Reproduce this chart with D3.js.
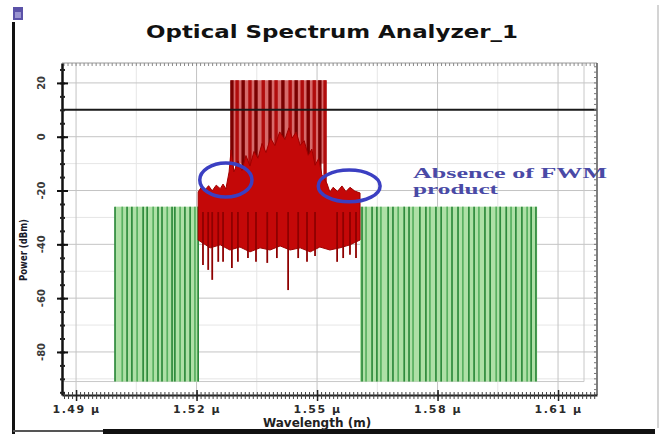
<!DOCTYPE html>
<html>
<head>
<meta charset="utf-8">
<script src="https://cdn.jsdelivr.net/npm/d3@7"></script>
<style>
  body { margin: 0; background: #fff; }
  svg { display: block; }
</style>
</head>
<body>
<svg id="chart" width="665" height="434"></svg>
<script>
// wavelength in nm, power in dBm
const xTicks = [1490, 1520, 1550, 1580, 1610];
const yTicks = [20, 0, -20, -40, -60, -80];
const xGridMinor = [1505, 1535, 1565, 1595];
const yGridMinor = [10, -10, -30, -50, -70, -90];

const floorLevel = -91;
const markerLevel = 10;
const peakLevel = 21;

// other WDM channels (green)
const greenBands = [[1499.7, 1520.4, -26], [1560.7, 1604.8, -26]];
const greenLines = [
  1499.7, 1501.5, 1502.7, 1503.9, 1505.2, 1506.7, 1507.7, 1509.2, 1510.4,
  1511.4, 1512.7, 1513.9, 1514.6, 1515.9, 1517.1, 1518.4, 1519.6, 1520.4,
  1561.2, 1562.2, 1563.7, 1564.9, 1565.9, 1567.7, 1568.9, 1570.2, 1571.7,
  1572.9, 1573.9, 1575.6, 1577.1, 1578.1, 1579.6, 1580.9, 1582.4, 1583.6,
  1585.1, 1586.3, 1587.8, 1589.1, 1590.3, 1591.8, 1593.1, 1594.6, 1595.6,
  1597.1, 1598.3, 1599.5, 1601.0, 1602.3, 1603.3, 1604.5
];

// red spectrum: envelope of the dense band
const redUpper = [
  [1520.4, -20.5], [1521.3, -18.6], [1522.1, -19.8], [1523.0, -18.2],
  [1523.9, -20.1], [1524.9, -18.0], [1525.9, -19.3], [1526.6, -17.6],
  [1527.3, -19.4], [1528.1, -13.1], [1528.6, -4.9], [1529.3, -13.1],
  [1530.3, -9.0], [1531.3, -12.5], [1532.3, -7.0], [1533.3, -10.9],
  [1534.3, -5.5], [1535.3, -8.0], [1536.3, -2.5], [1537.3, -5.9],
  [1538.4, -0.5], [1539.5, -3.3], [1540.7, 1.8], [1542.0, -1.0],
  [1543.0, 3.3], [1543.8, -0.5], [1544.8, 1.8], [1545.8, -3.2],
  [1546.8, -1.5], [1547.8, -6.9], [1548.7, -4.6], [1549.5, -10.6],
  [1550.4, -8.1], [1551.2, -14.1], [1552.5, -17.5], [1553.2, -20.6],
  [1554.0, -18.8], [1555.1, -20.3], [1556.2, -18.3], [1557.2, -20.4],
  [1558.2, -18.8], [1559.4, -20.2], [1560.7, -20.9]
];
const redLower = [
  [1520.4, -38.4], [1523.4, -41.3], [1525.9, -40.2], [1528.3, -42.1],
  [1530.8, -41.0], [1533.3, -42.8], [1535.8, -41.3], [1538.3, -42.1],
  [1540.8, -40.6], [1543.3, -42.1], [1545.8, -41.3], [1548.3, -42.8],
  [1550.7, -41.0], [1553.2, -42.1], [1555.7, -41.3], [1558.2, -40.2],
  [1560.7, -38.4]
];
const redDips = [
  [1521.6, -47.7], [1522.9, -49.5], [1523.9, -53.2], [1525.4, -46.5],
  [1526.6, -46.5], [1528.8, -48.8], [1530.3, -46.5], [1532.8, -45.1],
  [1534.8, -46.5], [1537.6, -46.9], [1540.0, -45.1], [1542.8, -57.0],
  [1545.3, -45.1], [1547.5, -46.5], [1549.5, -44.3], [1555.0, -46.5],
  [1556.5, -45.1], [1558.2, -43.9], [1559.7, -45.1]
];
const redPeaks = [
  1528.8, 1530.1, 1531.6, 1533.3, 1534.8, 1536.6, 1538.3, 1539.8,
  1541.5, 1543.3, 1544.8, 1546.3, 1547.8, 1549.3, 1550.7, 1552.0
];

// annotation ellipses: centre nm, centre dBm, half-width nm, half-height dB
const ellipses = [[1527.3, -16.1, 6.5, 6.3], [1558.0, -18.3, 7.7, 5.9]];
const noteLines = ["Absence of FWM", "product"];

const svg = d3.select("#chart");

const x = d3.scaleLinear().domain([1486.5, 1619.7]).range([62, 597]);
const y = d3.scaleLinear().domain([-96, 27.4]).range([395, 63]);

// window edges
svg.append("rect").attr("x", 12).attr("y", 22).attr("width", 3).attr("height", 412).attr("fill", "#111");
svg.append("line").attr("x1", 13).attr("x2", 103).attr("y1", 431).attr("y2", 431)
  .attr("stroke", "#555").attr("stroke-width", 2);
svg.append("rect").attr("x", 103).attr("y", 429).attr("width", 552).attr("height", 5).attr("fill", "#111");
svg.append("line").attr("x1", 658).attr("x2", 658).attr("y1", 5).attr("y2", 428)
  .attr("stroke", "#d4d4d4").attr("stroke-width", 2);

// icon
const icon = svg.append("g").attr("transform", "translate(13,7)");
icon.append("rect").attr("width", 10).attr("height", 13).attr("fill", "#5b52a8");
icon.append("rect").attr("x", 2).attr("y", 5).attr("width", 6).attr("height", 6).attr("fill", "#9a94d0");

// title
svg.append("text")
  .attr("x", 146).attr("y", 38)
  .attr("textLength", 372).attr("lengthAdjust", "spacingAndGlyphs")
  .attr("font-family", "DejaVu Sans, sans-serif").attr("font-weight", "bold")
  .attr("font-size", 18).attr("fill", "#111")
  .text("Optical Spectrum Analyzer_1");

// grid
const grid = svg.append("g");
grid.selectAll(".vmin").data(xGridMinor).join("line")
  .attr("x1", d => x(d)).attr("x2", d => x(d)).attr("y1", 63).attr("y2", 395)
  .attr("stroke", "#e6e6e6");
grid.selectAll(".hmin").data(yGridMinor).join("line")
  .attr("x1", 62).attr("x2", 597).attr("y1", d => y(d)).attr("y2", d => y(d))
  .attr("stroke", "#e6e6e6");
grid.selectAll(".vmaj").data(xTicks).join("line")
  .attr("x1", d => x(d)).attr("x2", d => x(d)).attr("y1", 63).attr("y2", 395)
  .attr("stroke", "#c4c4c4");
grid.selectAll(".hmaj").data(yTicks).join("line")
  .attr("x1", 62).attr("x2", 597).attr("y1", d => y(d)).attr("y2", d => y(d))
  .attr("stroke", "#c4c4c4");
// inner frame
svg.append("line").attr("x1", 62).attr("x2", 584).attr("y1", y(floorLevel)).attr("y2", y(floorLevel))
  .attr("stroke", "#c8c8c8");
svg.append("line").attr("x1", 584).attr("x2", 584).attr("y1", 63).attr("y2", y(floorLevel))
  .attr("stroke", "#c8c8c8");

// green channels
svg.selectAll(".gband").data(greenBands).join("rect")
  .attr("x", d => x(d[0])).attr("width", d => x(d[1]) - x(d[0]))
  .attr("y", d => y(d[2])).attr("height", d => y(floorLevel) - y(d[2]))
  .attr("fill", "#aee0a6");
svg.selectAll(".gline").data(greenLines).join("line")
  .attr("x1", d => x(d)).attr("x2", d => x(d))
  .attr("y1", y(-26)).attr("y2", y(floorLevel))
  .attr("stroke", (d, i) => i % 3 === 1 ? "#58b060" : "#2e8a3c")
  .attr("stroke-width", 1.7);

// red: reddish background of the tall peaks
svg.append("rect")
  .attr("x", x(d3.min(redPeaks)) - 1).attr("width", x(d3.max(redPeaks)) - x(d3.min(redPeaks)) + 2)
  .attr("y", y(peakLevel)).attr("height", y(-10) - y(peakLevel))
  .attr("fill", "#d66a6a");

svg.selectAll(".peak").data(redPeaks).join("line")
  .attr("x1", d => x(d)).attr("x2", d => x(d))
  .attr("y1", y(-25)).attr("y2", y(peakLevel))
  .attr("stroke", (d, i) => i % 2 ? "#b00c0c" : "#7a0000")
  .attr("stroke-width", 3.4);

// red band
const bandPts = redUpper.concat(redLower.slice().reverse());
svg.append("path")
  .attr("d", d3.line().x(d => x(d[0])).y(d => y(d[1]))(bandPts) + "Z")
  .attr("fill", "#c40808").attr("stroke", "#a00000").attr("stroke-width", 1);

svg.selectAll(".dip").data(redDips).join("line")
  .attr("x1", d => x(d[0])).attr("x2", d => x(d[0]))
  .attr("y1", y(-28)).attr("y2", d => y(d[1]))
  .attr("stroke", "#8e0000").attr("stroke-width", 1.8);

// marker line
svg.append("line")
  .attr("x1", 62).attr("x2", 597).attr("y1", y(markerLevel)).attr("y2", y(markerLevel))
  .attr("stroke", "#1a1a1a").attr("stroke-width", 2);

// annotation
svg.selectAll(".ell").data(ellipses).join("ellipse")
  .attr("cx", d => x(d[0])).attr("cy", d => y(d[1]))
  .attr("rx", d => x(d[0] + d[2]) - x(d[0])).attr("ry", d => y(d[1] - d[3]) - y(d[1]))
  .attr("fill", "none").attr("stroke", "#3b3fc2").attr("stroke-width", 3.5);

svg.append("text")
  .attr("x", x(1573.9)).attr("y", y(-15.3))
  .attr("textLength", 194).attr("lengthAdjust", "spacingAndGlyphs")
  .attr("font-family", "Liberation Serif, serif").attr("font-weight", "bold")
  .attr("font-size", 14).attr("fill", "#4a4aa6")
  .text(noteLines[0]);
svg.append("text")
  .attr("x", x(1573.9)).attr("y", y(-21.4))
  .attr("textLength", 85).attr("lengthAdjust", "spacingAndGlyphs")
  .attr("font-family", "Liberation Serif, serif").attr("font-weight", "bold")
  .attr("font-size", 14).attr("fill", "#4a4aa6")
  .text(noteLines[1]);

// frame: top and right
svg.append("line").attr("x1", 62).attr("x2", 597).attr("y1", 63).attr("y2", 63)
  .attr("stroke", "#9a9a9a");
svg.selectAll(".ttick").data(d3.range(1487, 1620, 1)).join("line")
  .attr("x1", d => x(d)).attr("x2", d => x(d)).attr("y1", 63).attr("y2", 66)
  .attr("stroke", "#8a8a8a");
svg.append("line").attr("x1", 597).attr("x2", 597).attr("y1", 63).attr("y2", 395)
  .attr("stroke", "#555").attr("stroke-width", 1.5);
svg.selectAll(".rtick").data(d3.range(-96, 27, 2)).join("line")
  .attr("x1", 594).attr("x2", 597).attr("y1", d => y(d)).attr("y2", d => y(d))
  .attr("stroke", "#777");

// bottom axis
const xAxis = svg.append("g").attr("transform", "translate(0,395)")
  .call(d3.axisBottom(x).tickValues(d3.range(1487, 1620, 1)).tickSize(4).tickSizeOuter(0).tickFormat(""));
xAxis.select(".domain").attr("stroke", "#222").attr("stroke-width", 2);
xAxis.selectAll(".tick line").attr("stroke", "#444").attr("y1", -3);
const xMajor = svg.append("g").attr("transform", "translate(0,395)")
  .call(d3.axisBottom(x).tickValues(xTicks).tickSize(6).tickPadding(4)
    .tickFormat(d => (d / 1000).toFixed(2) + " \u03bc"));
xMajor.select(".domain").remove();
xMajor.selectAll(".tick line").attr("stroke", "#222").attr("stroke-width", 1.5).attr("y1", -5);
xMajor.selectAll(".tick text")
  .attr("font-family", "DejaVu Sans, sans-serif").attr("font-weight", "bold")
  .attr("font-size", 11).attr("letter-spacing", 1.5).attr("fill", "#2a2a2a");

// left axis
const yAxis = svg.append("g").attr("transform", "translate(62,0)")
  .call(d3.axisLeft(y).tickValues(d3.range(-95, 27, 5)).tickSize(3).tickSizeOuter(0).tickFormat(""));
yAxis.select(".domain").attr("stroke", "#111").attr("stroke-width", 2.5);
yAxis.selectAll(".tick line").attr("stroke", "#222").attr("stroke-width", 2).attr("x2", 3).attr("x1", -2);
const yMajor = svg.append("g").attr("transform", "translate(62,0)")
  .call(d3.axisLeft(y).tickValues(yTicks).tickSize(5).tickFormat(""));
yMajor.select(".domain").remove();
yMajor.selectAll(".tick line").attr("stroke", "#111").attr("stroke-width", 2).attr("x2", 6).attr("x1", -5);

svg.selectAll(".ylab").data(yTicks).join("text")
  .attr("transform", d => `translate(45,${y(d)}) rotate(-90)`)
  .attr("text-anchor", "middle")
  .attr("font-family", "DejaVu Sans, sans-serif").attr("font-weight", "bold")
  .attr("font-size", 10).attr("fill", "#3a3a3a")
  .text(d => d);

// axis titles
svg.append("text")
  .attr("transform", "translate(27,250) rotate(-90)")
  .attr("text-anchor", "middle").attr("textLength", 62).attr("lengthAdjust", "spacingAndGlyphs")
  .attr("font-family", "DejaVu Sans, sans-serif").attr("font-weight", "bold")
  .attr("font-size", 11).attr("fill", "#1a1a2a")
  .text("Power (dBm)");
svg.append("text")
  .attr("x", x(1550)).attr("y", 427)
  .attr("text-anchor", "middle")
  .attr("font-family", "DejaVu Sans, sans-serif").attr("font-weight", "bold")
  .attr("font-size", 12).attr("fill", "#222")
  .text("Wavelength (m)");
</script>
</body>
</html>
